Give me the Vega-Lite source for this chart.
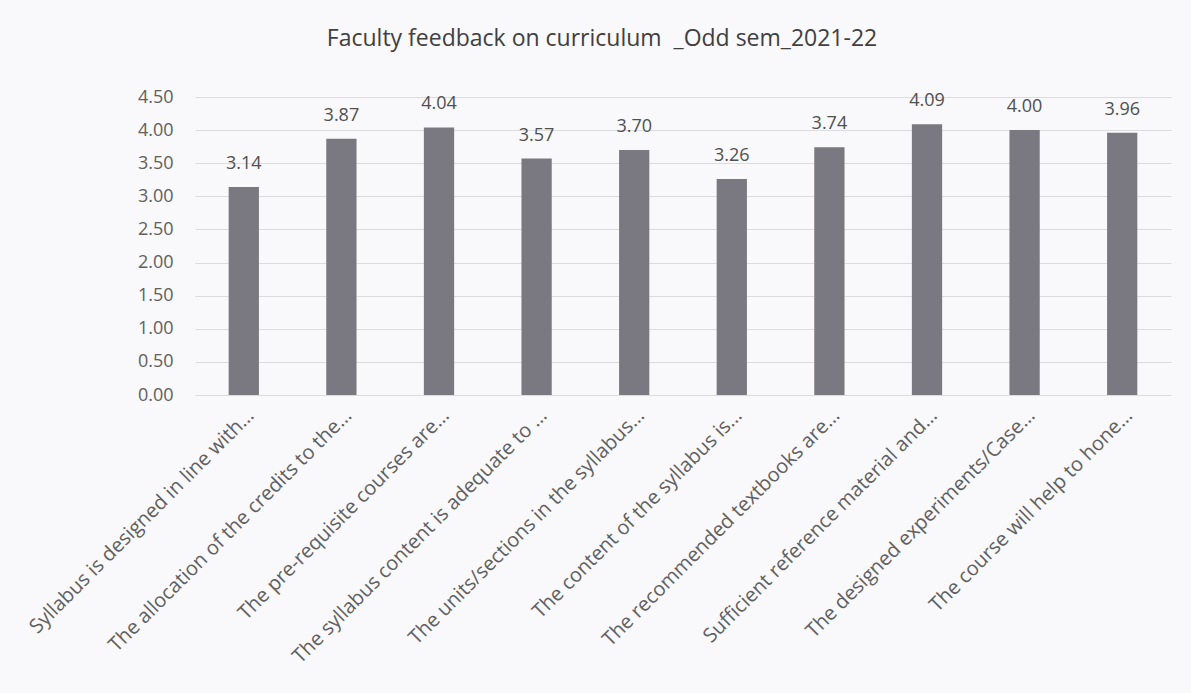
{
  "$schema": "https://vega.github.io/schema/vega-lite/v6.json",
  "width": 976,
  "height": 298,
  "autosize": {"type": "none"},
  "padding": {"left": 195, "top": 97, "right": 20, "bottom": 298},
  "background": "#f9f8fa",
  "title": {
    "text": "Faculty feedback on curriculum \u00a0_Odd sem_2021-22",
    "font": "Open Sans",
    "fontSize": 23,
    "fontWeight": "normal",
    "color": "#404040",
    "anchor": "middle",
    "dx": -81,
    "offset": 37
  },
  "data": {
    "values": [
      {"q": "Syllabus is designed in line with…", "v": 3.14},
      {"q": "The allocation of the credits to the…", "v": 3.87},
      {"q": "The pre-requisite courses are…", "v": 4.04},
      {"q": "The syllabus content is adequate to …", "v": 3.57},
      {"q": "The units/sections in the syllabus…", "v": 3.70},
      {"q": "The content of the syllabus is…", "v": 3.26},
      {"q": "The recommended textbooks are…", "v": 3.74},
      {"q": "Sufficient reference material and…", "v": 4.09},
      {"q": "The designed experiments/Case…", "v": 4.00},
      {"q": "The course will help to hone…", "v": 3.96}
    ]
  },
  "encoding": {
    "x": {
      "field": "q", "type": "nominal", "sort": null, "title": null,
      "scale": {"paddingInner": 0.69, "paddingOuter": 0.345},
      "axis": {
        "labelAngle": -45, "labelAlign": "right", "labelBaseline": "top",
        "labelFont": "Open Sans", "labelFontSize": 20, "labelColor": "#606060",
        "labelLimit": 500, "labelPadding": 10,
        "ticks": false, "domain": false
      }
    },
    "y": {
      "field": "v", "type": "quantitative", "title": null,
      "scale": {"domain": [0, 4.5], "nice": false},
      "axis": {
        "values": [0, 0.5, 1, 1.5, 2, 2.5, 3, 3.5, 4, 4.5],
        "format": ".2f",
        "labelFont": "Open Sans", "labelFontSize": 18, "labelColor": "#606060",
        "labelPadding": 22,
        "ticks": false, "domain": false,
        "gridColor": "#dcdbdd", "gridWidth": 1
      }
    }
  },
  "layer": [
    {"mark": {"type": "bar", "color": "#7a7880"}},
    {
      "mark": {"type": "text", "baseline": "alphabetic", "dy": -18, "font": "Open Sans", "fontSize": 18, "color": "#505050"},
      "encoding": {"text": {"field": "v", "type": "quantitative", "format": ".2f"}}
    }
  ],
  "config": {"view": {"stroke": null}}
}
